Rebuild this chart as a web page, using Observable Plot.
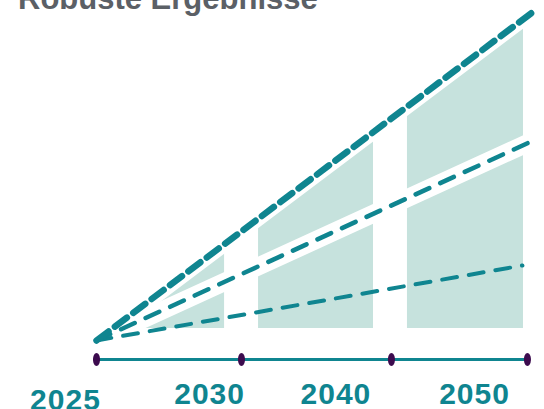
<!DOCTYPE html>
<html>
<head>
<meta charset="utf-8">
<script src="https://cdn.jsdelivr.net/npm/d3@7"></script>
<script src="https://cdn.jsdelivr.net/npm/@observablehq/plot@0.6"></script>
<style>
  html, body { margin: 0; padding: 0; background: #fff; overflow: hidden; }
  #wrap { position: relative; width: 544px; height: 409px; }
  #title { position: absolute; left: 18px; top: -17px; font: bold 31px/31px "Liberation Sans", Arial, sans-serif; color: #5b6066; white-space: nowrap; z-index: 2; }
  #chart svg text { letter-spacing: 1px; }
</style>
</head>
<body>
<div id="wrap">
  <div id="title">Robuste Ergebnisse</div>
  <div id="chart"></div>
</div>
<script>
// ---- data ----
const titleText = "Robuste Ergebnisse";
const scenarios = ["hoch", "mittel", "niedrig"];
const startYear = 2025;
const startValue = 0;
const endYears = [2050.35, 2050.35, 2049.71];
const endValues = [100, 60.8, 22.8];
const panelStart = [2025, 2034.40, 2043.04];
const panelEnd = [2032.43, 2041.07, 2049.77];
const panelBottom = 3.65;
const axisLevel = -5.8;
const axisDots = [2025, 2033.41, 2042.11, 2050];
const tickLabels = ["2025", "2030", "2040", "2050"];
const tickLabelX = [2023.20, 2031.56, 2038.89, 2046.93];
const tickLabelY = [-21.1, -19.3, -19.3, -19.3];

// ---- scales ----
const xDomain = [2019.43, 2050.99];
const yDomain = [-20.97, 103.34];

const teal = "#0f8590";
const fill = "#c6e2dd";
const purple = "#3c0b4e";

document.getElementById("title").textContent = titleText;

const lines = scenarios.map((s, i) => [
  {scenario: s, year: startYear, value: startValue},
  {scenario: s, year: endYears[i], value: endValues[i]}
]);
const topLine = lines[0], midLine = lines[1], lowLine = lines[2];

const gaps = [];
for (let i = 0; i < panelStart.length; i++) {
  const left = panelEnd[i];
  const right = i + 1 < panelStart.length ? panelStart[i + 1] : xDomain[1];
  gaps.push({x1: left, x2: right, y1: yDomain[0], y2: yDomain[1]});
}
const floor = [{x1: xDomain[0], x2: xDomain[1], y1: yDomain[0], y2: panelBottom}];

const ellipse = {
  draw(ctx, size) {
    const r = Math.sqrt(size / Math.PI);
    const rx = r * 0.54, ry = r, k = 0.5523;
    ctx.moveTo(0, -ry);
    ctx.bezierCurveTo(k * rx, -ry, rx, -k * ry, rx, 0);
    ctx.bezierCurveTo(rx, k * ry, k * rx, ry, 0, ry);
    ctx.bezierCurveTo(-k * rx, ry, -rx, k * ry, -rx, 0);
    ctx.bezierCurveTo(-rx, -k * ry, -k * rx, -ry, 0, -ry);
    ctx.closePath();
  }
};

const labels = tickLabels.map((t, i) => ({t, x: tickLabelX[i], y: tickLabelY[i]}));

const chart = Plot.plot({
  width: 544,
  height: 409,
  margin: 0,
  x: {domain: xDomain, axis: null},
  y: {domain: yDomain, axis: null},
  style: {background: "transparent", overflow: "visible"},
  marks: [
    Plot.areaY(topLine, {x: "year", y1: startValue, y2: "value", fill: fill}),
    Plot.rect(gaps, {x1: "x1", x2: "x2", y1: "y1", y2: "y2", fill: "white"}),
    Plot.rect(floor, {x1: "x1", x2: "x2", y1: "y1", y2: "y2", fill: "white"}),
    Plot.line(midLine, {x: "year", y: "value", stroke: "white", strokeWidth: 18}),
    Plot.line(topLine, {x: "year", y: "value", stroke: "white", strokeWidth: 15}),
    Plot.line(lowLine, {x: "year", y: "value", stroke: teal, strokeWidth: 4, strokeDasharray: "15,12"}),
    Plot.line(midLine, {x: "year", y: "value", stroke: teal, strokeWidth: 4.5, strokeDasharray: "15,12"}),
    Plot.line(topLine, {x: "year", y: "value", stroke: teal, strokeWidth: 6.5, strokeDasharray: "15,8"}),
    Plot.ruleY([axisLevel], {x1: axisDots[0], x2: axisDots[axisDots.length - 1], stroke: teal, strokeWidth: 3}),
    Plot.dot(axisDots, {x: d => d, y: axisLevel, symbol: ellipse, r: 6.5, fill: purple, stroke: "none"}),
    Plot.text(labels, {x: "x", y: "y", text: "t", fill: teal, fontSize: 30, fontWeight: "bold", fontFamily: "Liberation Sans, Arial, sans-serif", textAnchor: "middle", lineAnchor: "bottom"})
  ]
});
document.getElementById("chart").appendChild(chart);
</script>
</body>
</html>
